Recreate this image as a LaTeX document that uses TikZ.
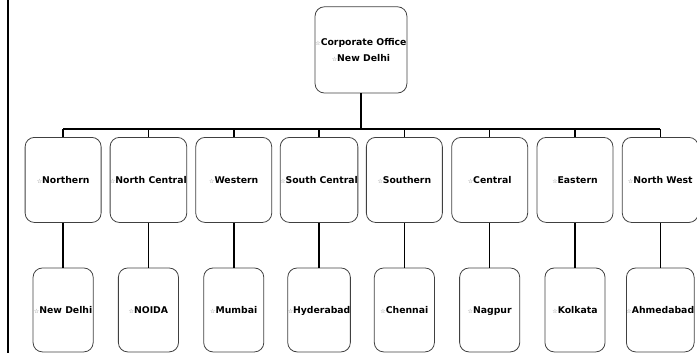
\documentclass[tikz,border=0pt]{standalone}
\usepackage{fontspec}
\setmainfont{DejaVu Sans}
\usepackage{tikz}
\usetikzlibrary{positioning}

\newcommand{\ico}{{\fontsize{4.5}{5}\selectfont\textcolor{black!55}{☆}}}

\tikzset{
  office/.style={draw=black!75, line width=0.6pt, rounded corners=7pt, align=center,
    font=\fontsize{7}{11.5}\selectfont\bfseries, inner sep=0pt},
  zone/.style={office, minimum width=2.01cm, minimum height=2.25cm, text height=1.5ex, text depth=0.4ex},
  city/.style={office, minimum width=1.59cm, minimum height=2.22cm, text height=1.5ex, text depth=0.4ex},
  link/.style={line width=1.2pt}
}

\begin{document}
\begin{tikzpicture}[node distance=2.257cm]
  \useasboundingbox (0,0) rectangle (18.44,-9.34);
  \draw[line width=1.4pt] (0.21,0) -- (0.21,-9.34);
  \node (co) [office, minimum width=2.43cm, minimum height=2.28cm] at (9.55,-1.32) {\ico Corporate Office\\\ico New Delhi};
  % zones
  \node (nor) [zone] at (1.67,-4.76) {\ico Northern};
  \node (nc) [zone, right of=nor] {\ico North Central};
  \node (wes) [zone, right of=nc] {\ico Western};
  \node (sc) [zone, right of=wes] {\ico South Central};
  \node (sou) [zone, right of=sc] {\ico Southern};
  \node (cen) [zone, right of=sou] {\ico Central};
  \node (eas) [zone, right of=cen] {\ico Eastern};
  \node (nw) [zone, right of=eas] {\ico North West};
  % cities
  \node (ndl) [city, below of=nor, node distance=3.44cm] {\ico New Delhi};
  \node (noi) [city, below of=nc, node distance=3.44cm] {\ico NOIDA};
  \node (mum) [city, below of=wes, node distance=3.44cm] {\ico Mumbai};
  \node (hyd) [city, below of=sc, node distance=3.44cm] {\ico Hyderabad};
  \node (che) [city, below of=sou, node distance=3.44cm] {\ico Chennai};
  \node (nag) [city, below of=cen, node distance=3.44cm] {\ico Nagpur};
  \node (kol) [city, below of=eas, node distance=3.44cm] {\ico Kolkata};
  \node (ahm) [city, below of=nw, node distance=3.44cm] {\ico Ahmedabad};
  % bus
  \coordinate (bus) at (0,-3.41);
  \draw[link] (co.south) -- (co |- bus);
  \draw[link] (nor |- bus) -- (nw |- bus);
  \draw[link] (nor |- bus) -- (nor.north);
  \draw[link] (nc |- bus) -- (nc.north);
  \draw[link] (wes |- bus) -- (wes.north);
  \draw[link] (sc |- bus) -- (sc.north);
  \draw[link] (sou |- bus) -- (sou.north);
  \draw[link] (cen |- bus) -- (cen.north);
  \draw[link] (eas |- bus) -- (eas.north);
  \draw[link] (nw |- bus) -- (nw.north);
  \draw[link] (nor) -- (ndl);
  \draw[link] (nc) -- (noi);
  \draw[link] (wes) -- (mum);
  \draw[link] (sc) -- (hyd);
  \draw[link] (sou) -- (che);
  \draw[link] (cen) -- (nag);
  \draw[link] (eas) -- (kol);
  \draw[link] (nw) -- (ahm);
\end{tikzpicture}
\end{document}
